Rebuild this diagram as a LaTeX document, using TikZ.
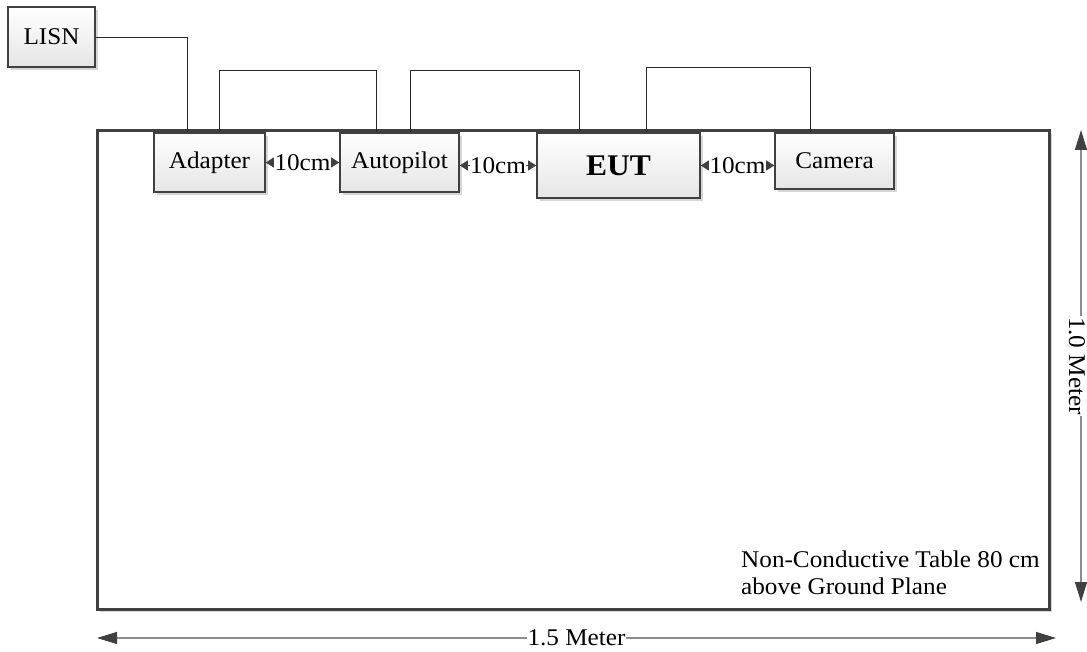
\documentclass[tikz,border=0pt]{standalone}
\usepackage{fontspec}
\setmainfont{Liberation Serif}[FakeStretch=1.05]
\usetikzlibrary{arrows.meta,shadows,calc}
\definecolor{edge}{HTML}{404040}
\definecolor{shade}{HTML}{D6D6D6}
\definecolor{dimline}{HTML}{8C8C8C}
\begin{document}
\begin{tikzpicture}[x=1pt,y=-1pt,
  txt/.style={font=\fontsize{24}{27.5}\selectfont},
  box/.style={draw=edge, line width=1.6pt, top color=white, bottom color=black!10,
    drop shadow={shadow xshift=3pt, shadow yshift=-3pt, fill=shade, opacity=1},
    inner sep=0pt, txt},
  tablebox/.style={draw=edge, line width=3pt, fill=white,
    drop shadow={shadow xshift=3pt, shadow yshift=-3pt, fill=shade, opacity=1}},
  wire/.style={draw=black!85, line width=0.8pt},
  gap/.style={draw=edge, line width=0.8pt,
    arrows={Triangle[length=8pt,width=10pt]-Triangle[length=8pt,width=10pt]}},
  gaplabel/.style={fill=white, inner sep=0.3pt, txt},
  dim/.style={draw=dimline, line width=1.2pt,
    arrows={Triangle[length=20pt,width=12pt,color=edge]-Triangle[length=20pt,width=12pt,color=edge]}},
  dimlabel/.style={fill=white, inner sep=1pt, txt}]
\useasboundingbox (0,0) rectangle (1087,652);

% table
\node[tablebox, minimum width=952pt, minimum height=478pt] (table) at (573,370) {};

% boxes
\node[box, minimum width=87pt, minimum height=60pt] (lisn) at (51.5,37) {LISN};
\node[box, minimum width=111pt, minimum height=59pt] (adapter) at (209.5,162.5) {Adapter};
\node[box, minimum width=119pt, minimum height=59pt] (autopilot) at (399.5,162.5) {Autopilot};
\node[box, minimum width=163pt, minimum height=65pt, font=\fontsize{30}{34}\selectfont\bfseries] (eut) at (618.5,165.5) {EUT};
\node[box, minimum width=119pt, minimum height=56pt] (camera) at (834.5,161) {Camera};

% wires
\draw[wire] (lisn.east) -| ([xshift=-22.5pt]adapter.north);
\draw[wire] ([xshift=9.5pt]adapter.north) |- ([xshift=-23.5pt,yshift=62pt]autopilot.north) -- ([xshift=-23.5pt]autopilot.north);
\draw[wire] ([xshift=11pt]autopilot.north) |- ([xshift=-39pt,yshift=62pt]eut.north) -- ([xshift=-39pt]eut.north);
\draw[wire] ([xshift=28pt]eut.north) |- ([xshift=-24.5pt,yshift=64.5pt]camera.north) -- ([xshift=-24.5pt]camera.north);

% 10cm gaps
\draw[gap] (adapter.east) -- node[gaplabel]{10cm} (adapter.east -| autopilot.west);
\draw[gap] (eut.west -| autopilot.east) -- node[gaplabel]{10cm} (eut.west);
\draw[gap] (eut.east) -- node[gaplabel]{10cm} (eut.east -| camera.west);

% note
\node[anchor=north west, align=left, inner sep=0pt, txt] (note) at (741,550.5)
  {Non-Conductive Table 80 cm\\above Ground Plane};

% dimensions
\coordinate (hl) at (97,638);
\coordinate (hr) at (1056,638);
\draw[dim] (hl) -- node[dimlabel]{1.5 Meter} (hr);
\coordinate (vt) at (1081,130);
\coordinate (vb) at (1081,602);
\draw[dim] (vt) -- node[dimlabel, rotate=-90, xshift=0pt, yshift=-4pt]{1.0 Meter} (vb);
\end{tikzpicture}
\end{document}
